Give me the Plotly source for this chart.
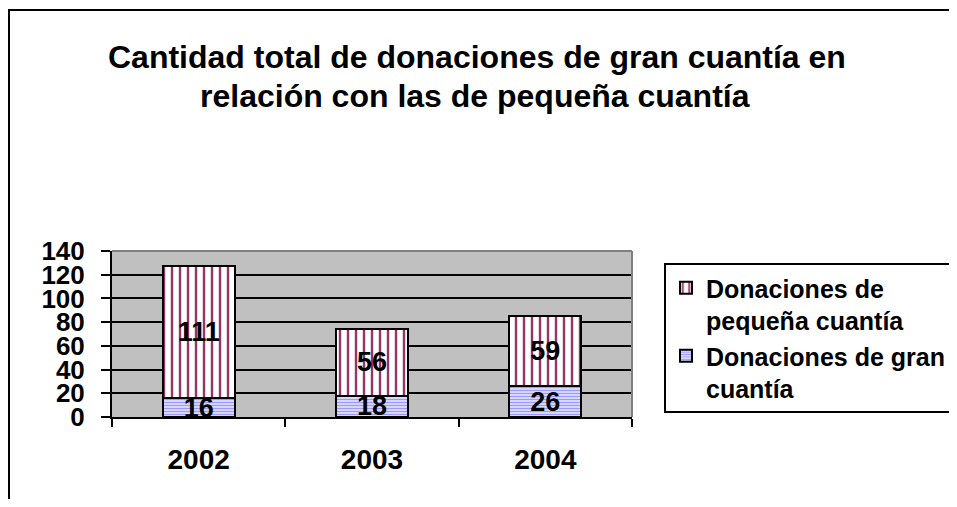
import plotly.graph_objects as go

categories = ["2002", "2003", "2004"]
gran = [16, 18, 26]
pequena = [111, 56, 59]
series_names = ["Donaciones de<br>pequeña cuantía", "Donaciones de gran<br>cuantía"]
y_ticks = [0, 20, 40, 60, 80, 100, 120, 140]
title_lines = ["Cantidad total de donaciones de gran cuantía en",
               "relación con las de pequeña cuantía"]

# page has an 8px body margin; work in figure coordinates (page - 8)
OFF = 8
W, H = 957 - 2 * OFF, 507 - 2 * OFF
L, R, T, B = 112 - OFF, 632 - OFF, 251 - OFF, 417 - OFF  # plot area pixel bounds
pw, ph = R - L, B - T


def px(x):
    return (x - OFF - L) / pw


def py(y):
    return (B - (y - OFF)) / ph


FONT = "Liberation Sans, Arial, sans-serif"

fig = go.Figure()
fig.add_trace(go.Bar(
    x=categories, y=gran, name=series_names[1],
    text=[str(v) for v in gran], textposition="inside", insidetextanchor="middle",
    textangle=0, constraintext="none", cliponaxis=False,
    textfont=dict(family=FONT, size=27, color="black", weight="bold"),
    marker=dict(color="white", line=dict(color="black", width=2),
                pattern=dict(shape="-", fgcolor="#9999FF", bgcolor="white", size=3,
                             solidity=0.6, fgopacity=1)),
))
fig.add_trace(go.Bar(
    x=categories, y=pequena, name=series_names[0],
    text=[str(v) for v in pequena], textposition="inside", insidetextanchor="middle",
    textangle=0, constraintext="none", cliponaxis=False,
    textfont=dict(family=FONT, size=27, color="black", weight="bold"),
    marker=dict(color="white", line=dict(color="black", width=2),
                pattern=dict(shape="|", fgcolor="#993366", bgcolor="white", size=8,
                             solidity=0.3, fgopacity=1)),
))

annotations = [
    dict(text=title_lines[0], x=px(477), y=py(57), xref="paper", yref="paper",
         xanchor="center", yanchor="middle", showarrow=False,
         font=dict(family=FONT, size=32, color="black", weight="bold")),
    dict(text=title_lines[1], x=px(475), y=py(96), xref="paper", yref="paper",
         xanchor="center", yanchor="middle", showarrow=False,
         font=dict(family=FONT, size=32, color="black", weight="bold")),
]

fig.update_layout(
    width=W, height=H,
    margin=dict(l=L, r=W - R, t=T, b=H - B, pad=0, autoexpand=False),
    paper_bgcolor="white", plot_bgcolor="#C0C0C0",
    barmode="stack", bargap=0.584,
    showlegend=True,
    font=dict(family=FONT, color="black"),
    annotations=annotations,
    legend=dict(x=px(664), y=py(263), xanchor="left", yanchor="top",
                bgcolor="white", bordercolor="black", borderwidth=2,
                traceorder="reversed", valign="top", tracegroupgap=0,
                font=dict(family=FONT, size=25, color="black", weight="bold")),
    xaxis=dict(type="category", tickson="boundaries", ticks="outside", ticklen=8,
               tickwidth=2, tickcolor="black", showline=True, linecolor="black", linewidth=2,
               showgrid=False, ticklabelstandoff=16, automargin=False,
               tickfont=dict(family=FONT, size=28, color="black", weight="bold")),
    yaxis=dict(range=[0, 140], tickvals=y_ticks, ticks="outside", ticklen=9, tickwidth=2,
               tickcolor="black", showline=True, linecolor="black", linewidth=2,
               showgrid=True, gridcolor="black", gridwidth=2, zeroline=False,
               ticklabelstandoff=11, automargin=False,
               tickfont=dict(family=FONT, size=26, color="black", weight="bold")),
    shapes=[
        # chart outer border
        dict(type="rect", xref="paper", yref="paper", x0=px(9), x1=px(1000), y0=py(560), y1=py(10),
             line=dict(color="black", width=2), fillcolor="rgba(0,0,0,0)", layer="above"),
        # plot area top and right border (gray)
        dict(type="line", xref="paper", yref="paper", x0=0, x1=1, y0=1, y1=1,
             line=dict(color="#808080", width=2), layer="above"),
        dict(type="line", xref="paper", yref="paper", x0=1, x1=1, y0=0, y1=1,
             line=dict(color="#808080", width=2), layer="above"),
    ],
)

fig.write_html("out.html")
